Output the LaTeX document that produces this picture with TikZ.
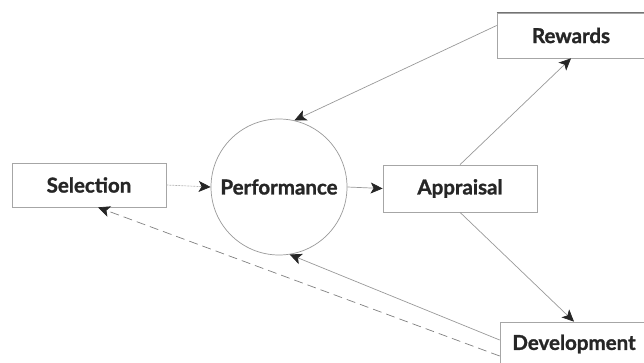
\documentclass[tikz,border=0pt]{standalone}
\usepackage{fontspec}
\setmainfont{Lato}[BoldFeatures={FakeBold=1.3}]
\usetikzlibrary{arrows.meta}
\begin{document}
\begin{tikzpicture}[x=1pt,y=-1pt,
  labelfont/.style={font=\fontsize{20.5}{24}\selectfont\bfseries, text=black!85},
  stagebox/.style={draw=black!35, line width=0.7pt, rectangle, inner sep=0pt, labelfont},
  head/.style={-{Stealth[length=12pt,width=11pt,inset=3pt,black!85]}},
  link/.style={draw=black!40, line width=0.7pt, head}]
\useasboundingbox (0,0) rectangle (644,363);
% stages of the cycle
\node[stagebox, minimum width=154pt, minimum height=44pt] (sel) at (89,185) {Selection};
\node[circle, draw=black!40, line width=0.7pt, minimum size=136pt, inner sep=0pt,
  labelfont] (perf) at (279,187) {Performance};
\node[stagebox, minimum width=154pt, minimum height=47pt] (app) at (460,188.5) {Appraisal};
\node[stagebox, minimum width=148pt, minimum height=45pt] (rew) at (571,35.5) {Rewards};
\node[stagebox, minimum width=148pt, minimum height=44pt] (dev) at (574,344) {Development};
% thicker top edge of the rewards box
\draw[black!55, line width=1.4pt] (rew.north west) -- (rew.north east);
% connectors
\draw[link, draw=black!30, dash pattern=on 2pt off 1pt] (sel.east) -- (perf.west);
\draw[link] (perf.east) -- (app.west);
\draw[link] (app.north) -- (rew.south);
\draw[link] (app.south) -- (dev.north);
\draw[link] ([yshift=10pt]rew.west) -- (perf.77);
\draw[link] ([yshift=4pt]dev.west) -- (perf.-81);
\draw[link, draw=black!50, dash pattern=on 9pt off 5pt] ([yshift=-12pt]dev.west) -- ([xshift=9pt]sel.south);
\end{tikzpicture}
\end{document}
